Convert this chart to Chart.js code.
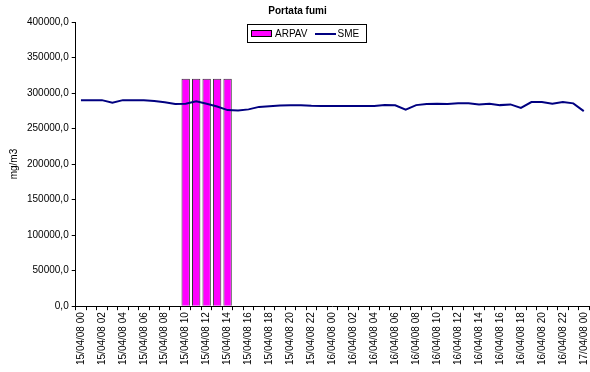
<!DOCTYPE html>
<html>
<head>
<meta charset="utf-8">
<script src="https://cdn.jsdelivr.net/npm/chart.js@4/dist/chart.umd.min.js"></script>
<style>
  html, body { margin: 0; padding: 0; background: #fff; }
  #wrap { width: 590px; height: 372px; }
</style>
</head>
<body>
<div id="wrap"><canvas id="c" width="590" height="372"></canvas></div>
<script>
// Hourly categories, 15/04/08 00 .. 17/04/08 00
const categories = [
  '15/04/08 00','15/04/08 01','15/04/08 02','15/04/08 03','15/04/08 04','15/04/08 05',
  '15/04/08 06','15/04/08 07','15/04/08 08','15/04/08 09','15/04/08 10','15/04/08 11',
  '15/04/08 12','15/04/08 13','15/04/08 14','15/04/08 15','15/04/08 16','15/04/08 17',
  '15/04/08 18','15/04/08 19','15/04/08 20','15/04/08 21','15/04/08 22','15/04/08 23',
  '16/04/08 00','16/04/08 01','16/04/08 02','16/04/08 03','16/04/08 04','16/04/08 05',
  '16/04/08 06','16/04/08 07','16/04/08 08','16/04/08 09','16/04/08 10','16/04/08 11',
  '16/04/08 12','16/04/08 13','16/04/08 14','16/04/08 15','16/04/08 16','16/04/08 17',
  '16/04/08 18','16/04/08 19','16/04/08 20','16/04/08 21','16/04/08 22','16/04/08 23',
  '17/04/08 00'
];

// ARPAV measurements (only 10..14 on 15/04)
const arpavValues = [
  null, null, null, null, null, null, null, null, null, null,
  320000, 320000, 320000, 320000, 320000,
  null, null, null, null, null, null, null, null, null,
  null, null, null, null, null, null, null, null, null, null, null, null,
  null, null, null, null, null, null, null, null, null, null, null, null,
  null
];

// SME continuous readings
const smeValues = [
  290000, 290000, 290000, 286500, 290000, 290000, 290000, 288700, 287000, 284500,
  284800, 288300, 285000, 281000, 276000, 275500, 277000, 280500, 281500, 282500,
  282700, 282700, 282000, 281700, 281700, 281700, 281700, 281700, 281700, 283000,
  282700, 276500, 283000, 284500, 285000, 284500, 285500, 285500, 284000, 285000,
  283000, 284000, 279000, 287300, 287300, 285000, 287300, 285500, 274500
];

const yTicks = [0, 50000, 100000, 150000, 200000, 250000, 300000, 350000, 400000];

const FONT = "'Liberation Sans', Arial, sans-serif";

// Boxed legend floating over the plot
const boxedLegend = {
  id: 'boxedLegend',
  afterDraw(chart) {
    const ctx = chart.ctx;
    const bar = chart.data.datasets.find(d => d.label === 'ARPAV');
    const line = chart.data.datasets.find(d => d.label === 'SME');
    ctx.save();
    ctx.fillStyle = '#fff';
    ctx.fillRect(247.5, 24.5, 119, 18);
    ctx.strokeStyle = '#000';
    ctx.lineWidth = 1;
    ctx.strokeRect(247.5, 24.5, 119, 18);

    ctx.fillStyle = bar.backgroundColor;
    ctx.fillRect(251.5, 30.5, 20, 6);
    ctx.strokeStyle = '#000';
    ctx.strokeRect(251.5, 30.5, 20, 6);

    ctx.font = '10px ' + FONT;
    ctx.fillStyle = '#000';
    ctx.textBaseline = 'middle';
    ctx.textAlign = 'left';
    ctx.fillText(bar.label, 275, 34);

    ctx.strokeStyle = line.borderColor;
    ctx.lineWidth = 2;
    ctx.beginPath();
    ctx.moveTo(315, 34);
    ctx.lineTo(336, 34);
    ctx.stroke();

    ctx.fillText(line.label, 337.5, 34);
    ctx.restore();
  }
};

new Chart(document.getElementById('c'), {
  type: 'bar',
  data: {
    labels: categories,
    datasets: [
      {
        type: 'line',
        label: 'SME',
        data: smeValues,
        borderColor: '#000080',
        borderWidth: 2,
        pointRadius: 0,
        tension: 0,
        fill: false,
        order: 1
      },
      {
        type: 'bar',
        label: 'ARPAV',
        data: arpavValues,
        backgroundColor: '#FF00FF',
        borderColor: '#333333',
        borderWidth: 1,
        categoryPercentage: 1,
        barPercentage: 0.8,
        order: 2
      }
    ]
  },
  options: {
    responsive: false,
    animation: false,
    devicePixelRatio: 1,
    layout: { padding: { left: 6, right: 1, top: 0, bottom: 5 } },
    plugins: {
      legend: { display: false },
      tooltip: { enabled: false },
      title: {
        display: true,
        text: 'Portata fumi',
        color: '#000',
        font: { family: FONT, size: 10, weight: 'bold' },
        padding: { top: 5, bottom: 5 }
      }
    },
    scales: {
      x: {
        offset: true,
        afterFit(scale) {
          // let the last rotated label sit right at the edge
          scale.paddingRight = 0;
        },
        grid: {
          offset: true,
          drawOnChartArea: false,
          drawTicks: true,
          tickLength: 4,
          color: '#000'
        },
        border: { display: true, color: '#000', width: 1 },
        ticks: {
          autoSkip: false,
          minRotation: 90,
          maxRotation: 90,
          padding: 2,
          color: '#000',
          font: { family: FONT, size: 10 },
          callback: function (value, index) {
            return index % 2 === 0 ? categories[index] : '';
          }
        }
      },
      y: {
        min: 0,
        max: 400000,
        afterBuildTicks(scale) {
          scale.ticks = yTicks.map(v => ({ value: v }));
        },
        grid: {
          drawOnChartArea: false,
          drawTicks: true,
          tickLength: 4,
          color: '#000'
        },
        border: { display: true, color: '#000', width: 1 },
        ticks: {
          padding: 3,
          color: '#000',
          font: { family: FONT, size: 10 },
          callback: v => v.toFixed(1).replace('.', ',')
        },
        title: {
          display: true,
          text: 'mg/m3',
          color: '#000',
          font: { family: FONT, size: 10 },
          padding: { top: 2, bottom: 4 }
        }
      }
    }
  },
  plugins: [boxedLegend]
});
</script>
</body>
</html>
